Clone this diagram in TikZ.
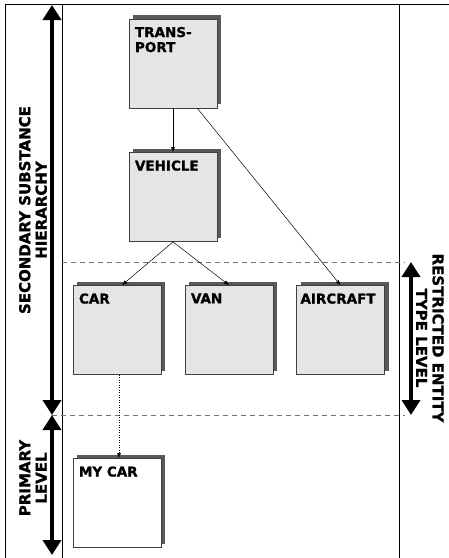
\documentclass[tikz,border=0pt]{standalone}
\usepackage{fontspec}
\setmainfont{DejaVu Sans}
\newfontfamily\heavyfont{DejaVu Sans Bold}[FakeBold = 1.2]
\usetikzlibrary{arrows.meta, shadows}

\tikzset{
    typebox/.style = {draw = black!75, fill = black!10, minimum width = 88pt,
        minimum height = 89pt, inner sep = 0pt,
        drop shadow = {shadow xshift = 4pt, shadow yshift = 4pt,
            fill = black!65, opacity = 1}},
    instbox/.style = {typebox, fill = white},
    boxlabel/.style = {anchor = north west, inner sep = 0pt, align = left,
        font = \fontsize{13.5}{15}\selectfont\heavyfont},
    sidelabel/.style = {inner sep = 0pt, align = center,
        font = \fontsize{15}{16.5}\selectfont\heavyfont},
    levelarrow/.style = {line width = 4pt,
        {Triangle[width = 18pt, length = 15pt]}-{Triangle[width = 18pt, length = 15pt]}},
    link/.style = {line width = 0.5pt, -{Latex[length = 5pt, width = 4pt]}},
    levelline/.style = {black!55, line width = 0.8pt, dash pattern = on 5pt off 4pt}
}

\begin{document}
\begin{tikzpicture}[x = 1pt, y = -1pt, line width = 0.8pt]

        \useasboundingbox (0, 0) rectangle (449, 558);

        % Frame and column lines.
        \draw (5, 558) -- (5, 4) -- (449, 4);
        \draw (62, 4) -- (62, 558);
        \draw (399, 4) -- (399, 558);

        % Dashed lines between the levels.
        \draw[levelline] (62, 262) -- (405, 262);
        \draw[levelline] (52, 415) -- (405, 415);

        % Boxes for the type hierarchy.
        \node[typebox] (transport) at (173, 63.5) {};
        \node[typebox] (vehicle) at (173, 197) {};
        \node[typebox] (car) at (117, 330) {};
        \node[typebox] (van) at (229, 330) {};
        \node[typebox] (aircraft) at (340.5, 330) {};
        \node[instbox] (mycar) at (117, 503) {};

        % Texts in the boxes.
        \node[boxlabel] at ([xshift = 6pt, yshift = -8pt]transport.north west) {TRANS-\\PORT};
        \node[boxlabel] at ([xshift = 6pt, yshift = -8pt]vehicle.north west) {VEHICLE};
        \node[boxlabel] at ([xshift = 6pt, yshift = -8pt]car.north west) {CAR};
        \node[boxlabel] at ([xshift = 6pt, yshift = -8pt]van.north west) {VAN};
        \node[boxlabel] at ([xshift = 4pt, yshift = -8pt]aircraft.north west) {AIRCRAFT};
        \node[boxlabel] at ([xshift = 6pt, yshift = -8pt]mycar.north west) {MY CAR};

        % Links between the boxes.
        \draw[link] (transport.south) -- (vehicle.north);
        \draw[link] ([xshift = -20pt]transport.south east) -- (aircraft.north);
        \draw[link] (vehicle.south) -- ([xshift = 5pt]car.north);
        \draw[link] (vehicle.south) -- (van.north);
        \draw[link, dotted] ([xshift = 2pt]car.south) -- ([xshift = 2pt]mycar.north);

        % Thick arrows for the levels.
        \coordinate (sectop) at (52, 5);
        \coordinate (secbot) at (52, 415);
        \coordinate (primbot) at (52, 555);
        \coordinate (restop) at (411, 262);
        \coordinate (resbot) at (411, 415);
        \draw[levelarrow] (sectop) -- (secbot);
        \draw[levelarrow] (secbot) -- (primbot);
        \draw[levelarrow] (restop) -- (resbot);

        % Level names.
        \node[sidelabel, rotate = 90] (seclabel) at (33, 210) {SECONDARY SUBSTANCE\\HIERARCHY};
        \node[sidelabel, rotate = 90] (primlabel) at (33, 478) {PRIMARY\\LEVEL};
        \node[sidelabel, rotate = -90] (reslabel) at (430, 338) {RESTRICTED ENTITY\\TYPE LEVEL};
    \end{tikzpicture}
\end{document}
